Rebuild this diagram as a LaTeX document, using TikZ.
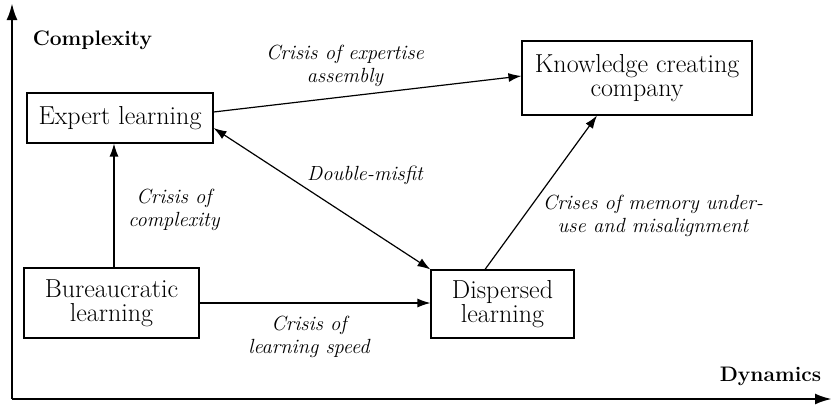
\documentclass[tikz,border=0pt]{standalone}
\usetikzlibrary{arrows.meta, positioning}
\tikzset{
  every picture/.style={line width=1pt},
  stage/.style={draw, line width=1.1pt, align=center, inner sep=0pt, font=\fontsize{26}{24}\selectfont},
  crisis/.style={font=\fontsize{20.5}{23}\selectfont\itshape, align=center},
  axislabel/.style={font=\fontsize{21}{24}\selectfont\bfseries},
  arrow/.style={-{Latex[length=13pt, width=9pt]}, line width=1.2pt},
  twoway/.style={{Latex[length=13pt, width=9pt]}-{Latex[length=13pt, width=9pt]}, line width=1.2pt},
  axis/.style={-{Latex[length=17pt, width=11pt]}, line width=2.6pt},
}

\begin{document}
\begin{tikzpicture}[x=1pt, y=-1pt]
  \useasboundingbox (0,0) rectangle (833,405);
  % axes
  \coordinate (origin) at (12,399);
  \coordinate (ytop) at (12,3);
  \coordinate (xend) at (832,399);
  \draw[axis] (origin) -- (ytop);
  \draw[axis] (origin) -- (xend);
  \node[axislabel, anchor=west] (complexity) at (29,40) {Complexity};
  \node[axislabel, anchor=east] (dynamics) at (825,376) {Dynamics};
  % learning modes
  \node[stage, minimum width=186pt, minimum height=50pt] (expert) at (120,118) {Expert learning};
  \node[stage, minimum width=230pt, minimum height=74pt] (knowledge) at (637,78) {Knowledge creating\\company};
  \node[stage, minimum width=175pt, minimum height=70pt] (bureau) at (111.5,303) {Bureaucratic\\learning};
  \node[stage, minimum width=143pt, minimum height=68pt] (dispersed) at (502.5,304) {Dispersed\\learning};
  % crises between them
  \draw[arrow] ([xshift=2.5pt]bureau.north) -- ([xshift=2.5pt]bureau.north |- expert.south);
  \draw[arrow] ([yshift=6pt]expert.east) -- ([yshift=2pt]knowledge.west);
  \draw[twoway] ([yshift=-10pt]expert.east) -- (dispersed.north west);
  \draw[arrow] ([xshift=-17.5pt]dispersed.north) -- ([xshift=-40pt]knowledge.south);
  \draw[arrow] (bureau.east) -- (bureau.east -| dispersed.west);
  \node[crisis] (complexcrisis) at (174,210) {Crisis of\\complexity};
  \node[crisis] (assembly) at (345,66) {Crisis of expertise\\assembly};
  \node[crisis] (misfit) at (365,175) {Double-misfit};
  \node[crisis] (memory) at (653,216) {Crises of memory under-\\use and misalignment};
  \node[crisis] (speed) at (309,337) {Crisis of\\learning speed};
\end{tikzpicture}
\end{document}
